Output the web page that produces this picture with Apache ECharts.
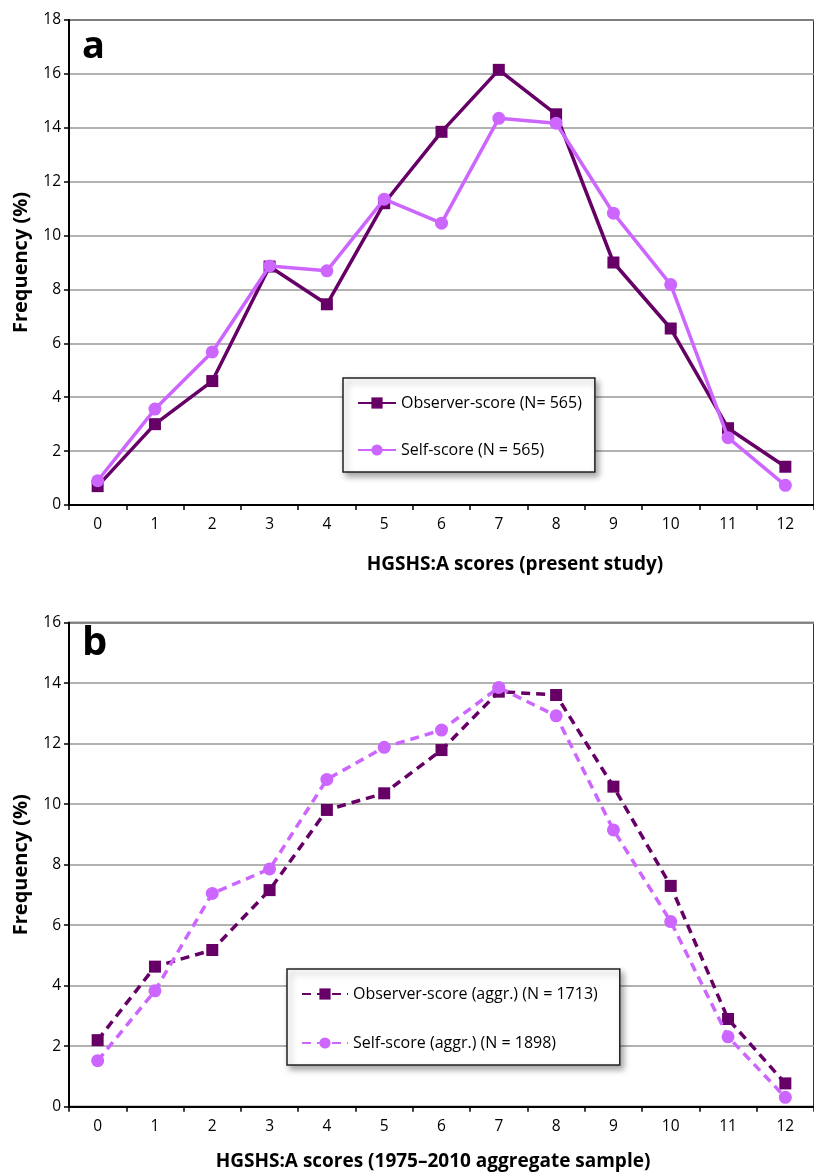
<!DOCTYPE html>
<html>
<head>
<meta charset="utf-8">
<script src="https://cdn.jsdelivr.net/npm/echarts@6/dist/echarts.min.js"></script>
<style>
  html, body { margin: 0; padding: 0; background: #fff; }
  #chart { width: 814px; height: 1175px; }
</style>
</head>
<body>
<div id="chart"></div>
<script>
// scores 0..12
const scores = ['0', '1', '2', '3', '4', '5', '6', '7', '8', '9', '10', '11', '12'];

// panel a: present study
const observerA = [0.7, 3.0, 4.6, 8.85, 7.45, 11.2, 13.85, 16.15, 14.5, 9.0, 6.55, 2.85, 1.42];
const selfA = [0.9, 3.56, 5.68, 8.87, 8.69, 11.35, 10.46, 14.35, 14.17, 10.83, 8.18, 2.5, 0.73];

// panel b: 1975-2010 aggregate sample
const observerB = [2.2, 4.63, 5.18, 7.16, 9.81, 10.36, 11.79, 13.72, 13.61, 10.58, 7.3, 2.9, 0.77];
const selfB = [1.52, 3.83, 7.05, 7.86, 10.82, 11.88, 12.45, 13.86, 12.92, 9.15, 6.12, 2.31, 0.31];

const yTicksA = { min: 0, max: 18, interval: 2 };
const yTicksB = { min: 0, max: 16, interval: 2 };

const dark = '#660066';
const light = '#CC66FF';
const font = 'Open Sans';

const chart = echarts.init(document.getElementById('chart'));

const xAxisBase = (gridIndex) => ({
  type: 'category',
  gridIndex: gridIndex,
  data: scores,
  boundaryGap: true,
  axisLine: { lineStyle: { color: '#000', width: 2 } },
  axisTick: { show: true, length: 5, lineStyle: { color: '#000', width: 1.5 } },
  axisLabel: { color: '#000', fontSize: 15.5, fontFamily: font, margin: 12 },
  splitLine: { show: false }
});

const yAxisBase = (gridIndex, ticks) => ({
  type: 'value',
  gridIndex: gridIndex,
  min: ticks.min,
  max: ticks.max,
  interval: ticks.interval,
  name: 'Frequency (%)',
  nameLocation: 'middle',
  nameGap: 38,
  nameTextStyle: { color: '#000', fontSize: 20, fontWeight: 'bold', fontFamily: font },
  axisLine: { show: true, lineStyle: { color: '#000', width: 2 } },
  axisTick: { show: true, length: 5, lineStyle: { color: '#000', width: 1.5 } },
  axisLabel: { color: '#000', fontSize: 15.5, fontFamily: font, margin: 8 },
  splitLine: { show: true, lineStyle: { color: '#999', width: 1.5 } }
});

const lineSeries = (name, data, idx, color, symbol, dashed) => ({
  name: name,
  type: 'line',
  xAxisIndex: idx,
  yAxisIndex: idx,
  data: data,
  symbol: symbol,
  symbolSize: symbol === 'rect' ? 12 : 13,
  itemStyle: { color: color },
  lineStyle: { color: color, width: 3.5, type: dashed ? [9, 6] : 'solid' },
  emphasis: { disabled: true },
  animation: false,
  z: color === dark ? 3 : 4
});

const legendBase = {
  orient: 'vertical',
  backgroundColor: '#fff',
  borderColor: '#222',
  borderWidth: 1.5,
  shadowColor: 'rgba(0,0,0,0.35)',
  shadowBlur: 6,
  shadowOffsetX: 3,
  shadowOffsetY: 4,
  itemHeight: 14,
  textStyle: { color: '#000', fontSize: 16, fontFamily: font },
  selectedMode: false
};

chart.setOption({
  backgroundColor: '#fff',
  animation: false,
  grid: [
    { left: 69, top: 20, width: 758, height: 485, show: true, borderColor: '#333', borderWidth: 2 },
    { left: 69, top: 622.7, width: 758, height: 484, show: true, borderColor: '#333', borderWidth: 2 }
  ],
  xAxis: [xAxisBase(0), xAxisBase(1)],
  yAxis: [yAxisBase(0, yTicksA), yAxisBase(1, yTicksB)],
  legend: [
    Object.assign({}, legendBase, {
      left: 343, top: 378,
      padding: [17, 13, 14, 14],
      itemWidth: 38,
      itemGap: 31,
      data: ['Observer-score (N= 565)', 'Self-score (N = 565)']
    }),
    Object.assign({}, legendBase, {
      left: 287, top: 969,
      padding: [17, 22, 14, 14],
      itemWidth: 46,
      itemGap: 33,
      data: ['Observer-score (aggr.) (N = 1713)', 'Self-score (aggr.) (N = 1898)']
    })
  ],
  graphic: [
    { type: 'text', left: 82, top: 28, style: { text: 'a', fontSize: 38, fontWeight: 'bold', fontFamily: font, fill: '#000' } },
    { type: 'text', left: 82, top: 624, style: { text: 'b', fontSize: 40, fontWeight: 'bold', fontFamily: font, fill: '#000' } },
    { type: 'text', x: 515, y: 565, style: { text: 'HGSHS:A scores (present study)', fontSize: 19, fontWeight: 'bold', fontFamily: font, fill: '#000', align: 'center', verticalAlign: 'middle' } },
    { type: 'text', x: 433, y: 1162, style: { text: 'HGSHS:A scores (1975–2010 aggregate sample)', fontSize: 19, fontWeight: 'bold', fontFamily: font, fill: '#000', align: 'center', verticalAlign: 'middle' } }
  ],
  series: [
    lineSeries('Observer-score (N= 565)', observerA, 0, dark, 'rect', false),
    lineSeries('Self-score (N = 565)', selfA, 0, light, 'circle', false),
    lineSeries('Observer-score (aggr.) (N = 1713)', observerB, 1, dark, 'rect', true),
    lineSeries('Self-score (aggr.) (N = 1898)', selfB, 1, light, 'circle', true)
  ]
});
</script>
</body>
</html>
